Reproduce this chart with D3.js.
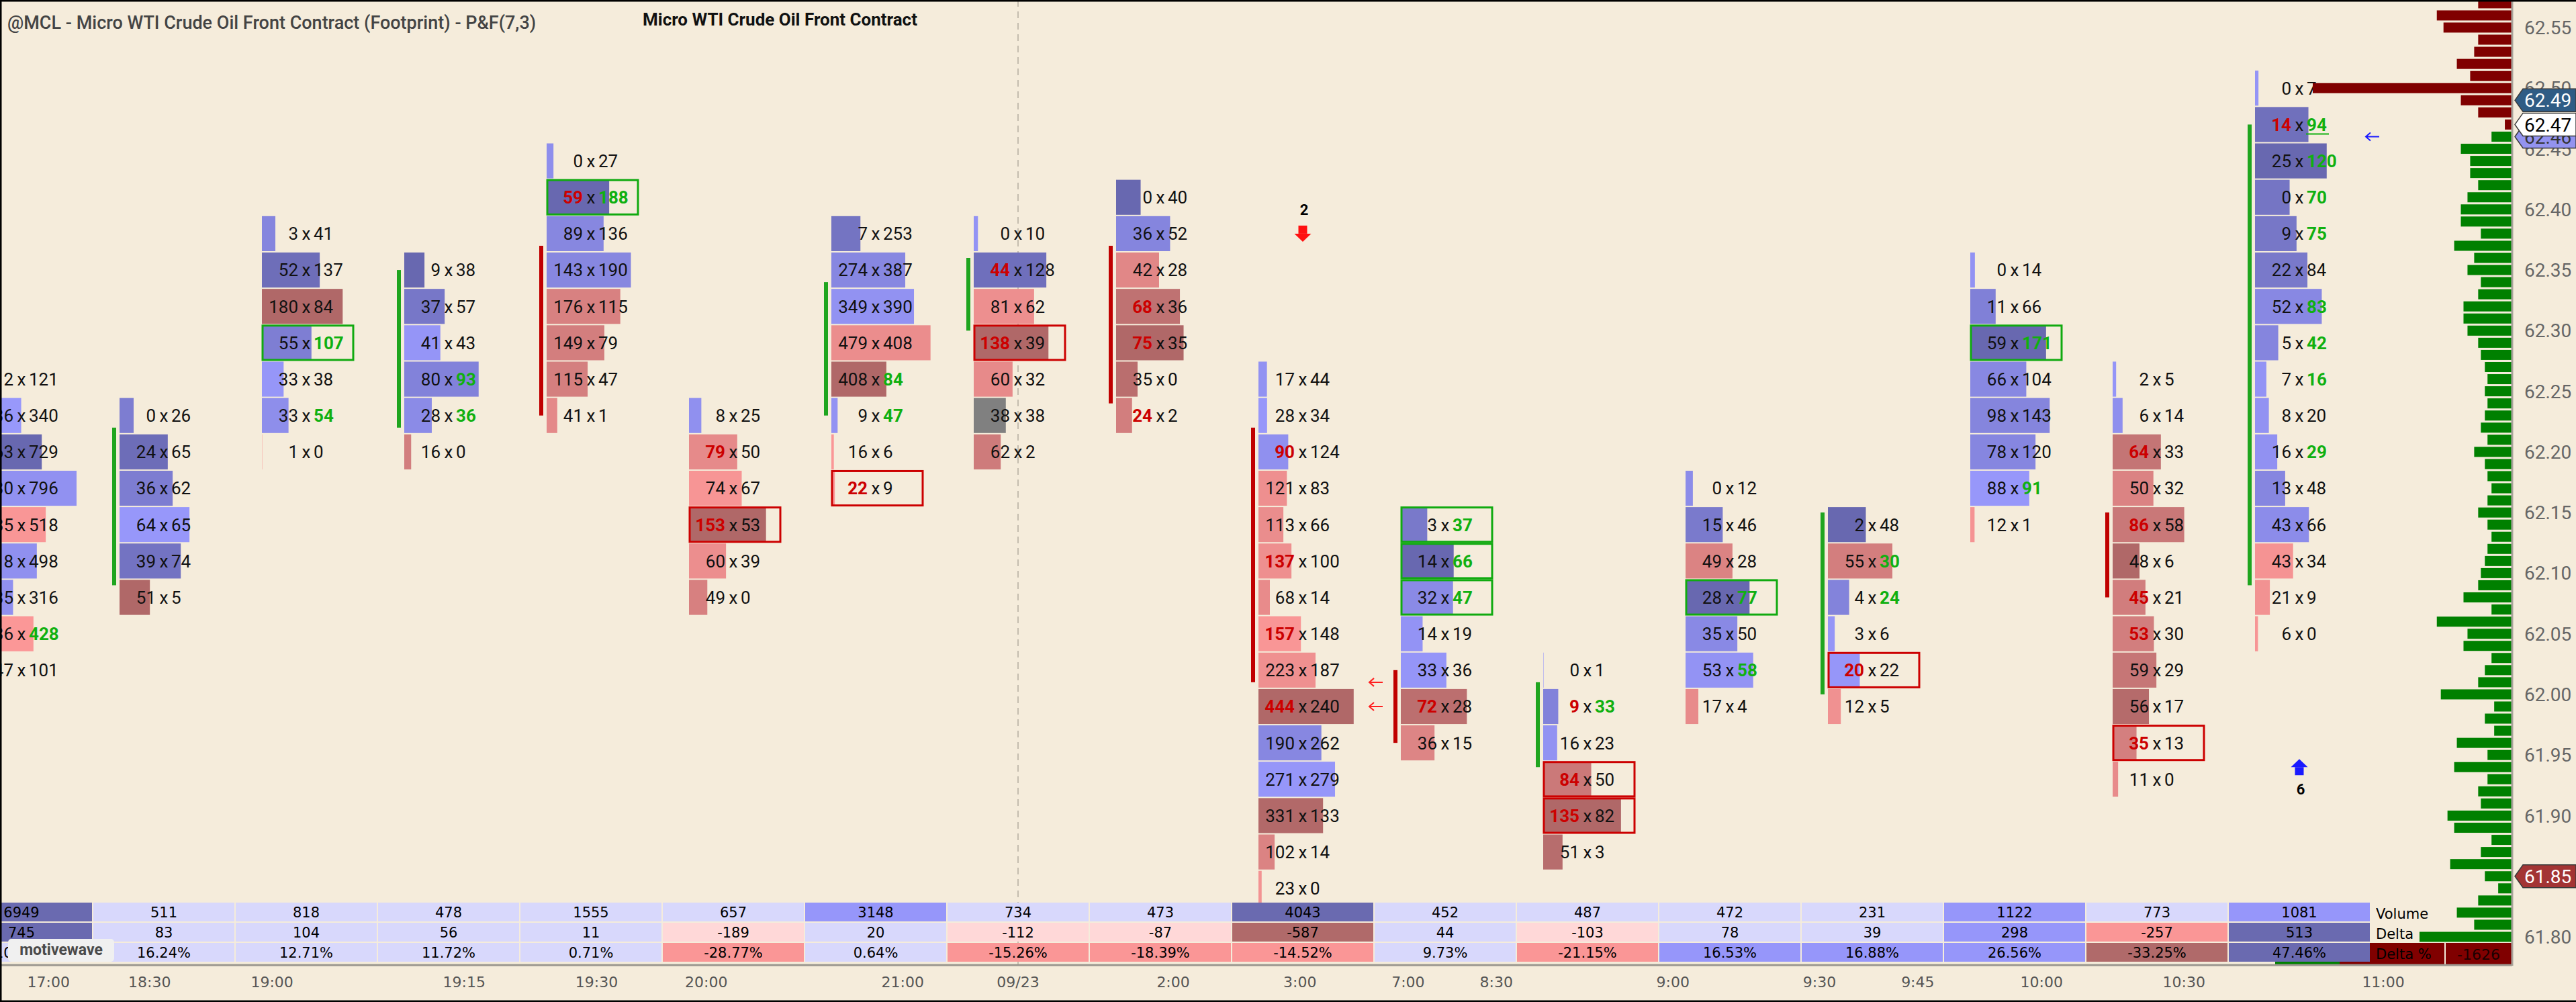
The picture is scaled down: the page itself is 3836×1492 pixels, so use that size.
<!DOCTYPE html>
<html>
<head>
<meta charset="utf-8">
<script src="https://cdn.jsdelivr.net/npm/d3@7"></script>
<style>
  body { margin: 0; background: #f5ecdb; overflow: hidden; }
  svg { display: block; }
</style>
</head>
<body>
<svg id="chart" width="3836" height="1492"></svg>
<script>
const W = 3836, H = 1492;

// top price level of each P&F footprint bar (levels step down by 3 ticks)
const topPrice = [62.26, 62.23, 62.38, 62.35, 62.44, 62.23, 62.38, 62.38, 62.41, 62.26, 62.14, 62.02, 62.17, 62.14, 62.35, 62.26, 62.50];

const bids = [
  [2, 336, 263, 730, 535, 418, 235, 436, 147],
  [0, 24, 36, 64, 39, 51],
  [3, 52, 180, 55, 33, 33, 1],
  [9, 37, 41, 80, 28, 16],
  [0, 59, 89, 143, 176, 149, 115, 41],
  [8, 79, 74, 153, 60, 49],
  [7, 274, 349, 479, 408, 9, 16, 22],
  [0, 44, 81, 138, 60, 38, 62],
  [0, 36, 42, 68, 75, 35, 24],
  [17, 28, 90, 121, 113, 137, 68, 157, 223, 444, 190, 271, 331, 102, 23],
  [3, 14, 32, 14, 33, 72, 36],
  [0, 9, 16, 84, 135, 51],
  [0, 15, 49, 28, 35, 53, 17],
  [2, 55, 4, 3, 20, 12],
  [0, 11, 59, 66, 98, 78, 88, 12],
  [2, 6, 64, 50, 86, 48, 45, 53, 59, 56, 35, 11],
  [0, 14, 25, 0, 9, 22, 52, 5, 7, 8, 16, 13, 43, 43, 21, 6]
];

const asks = [
  [121, 340, 729, 796, 518, 498, 316, 428, 101],
  [26, 65, 62, 65, 74, 5],
  [41, 137, 84, 107, 38, 54, 0],
  [38, 57, 43, 93, 36, 0],
  [27, 188, 136, 190, 115, 79, 47, 1],
  [25, 50, 67, 53, 39, 0],
  [253, 387, 390, 408, 84, 47, 6, 9],
  [10, 128, 62, 39, 32, 38, 2],
  [40, 52, 28, 36, 35, 0, 2],
  [44, 34, 124, 83, 66, 100, 14, 148, 187, 240, 262, 279, 133, 14, 0],
  [37, 66, 47, 19, 36, 28, 15],
  [1, 33, 23, 50, 82, 3],
  [12, 46, 28, 77, 50, 58, 4],
  [48, 30, 24, 6, 22, 5],
  [14, 66, 171, 104, 143, 120, 91, 1],
  [5, 14, 33, 32, 58, 6, 21, 30, 29, 17, 13, 0],
  [7, 94, 120, 70, 75, 84, 83, 42, 16, 20, 29, 48, 66, 34, 9, 0]
];

// b = bid imbalance, a = ask imbalance, R / G = boxed level, u = last trade
const marks = [
  ['', '', '', '', '', '', '', 'a', ''],
  ['', '', '', '', '', ''],
  ['', '', '', 'aG', '', 'a', ''],
  ['', '', '', 'a', 'a', ''],
  ['', 'baG', '', '', '', '', '', ''],
  ['', 'b', '', 'bR', '', ''],
  ['', '', '', '', 'a', 'a', '', 'bR'],
  ['', 'b', '', 'bR', '', '', ''],
  ['', '', '', 'b', 'b', '', 'b'],
  ['', '', 'b', '', '', 'b', '', 'b', '', 'b', '', '', '', '', ''],
  ['aG', 'aG', 'aG', '', '', 'b', ''],
  ['', 'ba', '', 'bR', 'bR', ''],
  ['', '', '', 'aG', '', 'a', ''],
  ['', 'a', 'a', '', 'bR', ''],
  ['', '', 'aG', '', '', '', 'a', ''],
  ['', '', 'b', '', 'b', '', 'b', 'b', '', '', 'bR', ''],
  ['', 'bau', 'a', 'a', 'a', '', 'a', 'a', 'a', '', 'a', '', '', '', '', '']
];

// P&F box open / close of each bar (null = not shown)
const boxOpen  = [null, 62.09, null, 62.22, 62.37, null, 62.23, 62.30, 62.37, 62.22, 62.02, 61.94, null, 62.00, null, 62.15, 62.09];
const boxClose = [null, 62.22, null, 62.35, 62.23, null, 62.34, 62.36, 62.24, 62.01, 61.96, 62.01, null, 62.15, null, 62.08, 62.47];

// time axis
const timeLabels = ['17:00', '18:30', '19:00', '19:15', '19:30', '20:00', '21:00', '09/23', '2:00', '3:00', '7:00', '8:30', '9:00', '9:30', '9:45', '10:00', '10:30', '11:00'];
const timeTickAt = [0.69, 1.40, 2.26, 3.61, 4.54, 5.31, 6.69, 7.50, 8.59, 9.48, 10.24, 10.86, 12.10, 13.13, 13.82, 14.69, 15.69, 17.09];
const dayBreakAt = 7.50;

// price axis
const priceTicks = ['62.55', '62.50', '62.45', '62.40', '62.35', '62.30', '62.25', '62.20', '62.15', '62.10', '62.05', '62.00', '61.95', '61.90', '61.85', '61.80'];

// volume profile, one value per tick from profileTop downwards
const profileTop = 62.57;
const profileVol = [50, 112, 102, 50, 56, 82, 62, 298, 76, 50, 10,
  30, 76, 62, 62, 50, 66, 76, 76, 46, 86, 56, 66, 46, 50, 72, 72, 66, 50, 46, 40,
  36, 40, 36, 40, 46, 36, 56, 40, 36, 30, 36, 50, 36, 30, 36, 40, 46, 50, 72, 30,
  112, 66, 72, 30, 40, 50, 106, 26, 40, 26, 82, 36, 86, 36, 50, 46, 96, 86, 30,
  46, 92, 40, 20, 50, 82, 56, 138, 96];
const profileSplit = 62.47;
const profileDelta = -1626;

// signals and markers
const signalCol = [9, 16];
const signalPrice = [62.38, 61.94];
const signalText = ['2', '6'];
const signalDir = ['down', 'up'];
const pointerCol = [9, 9, 16];
const pointerPrice = [62.01, 61.99, 62.46];
const pointerUp = [false, false, true];

// price badges
const badgePrice = [62.46, 62.49, 62.47, 61.85];
const badgeFill = ['#9393f0', '#2f5c85', '#ffffff', '#a33434'];
const badgeText = ['#333333', '#ffffff', '#000000', '#ffffff'];

const svg = d3.select('#chart');
svg.append('rect').attr('width', W).attr('height', H).attr('fill', '#f5ecdb');

const nCols = topPrice.length;
const y = d3.scaleLinear().domain([62.55, 61.80]).range([41, 1395]);
const x = d3.scaleBand().domain(d3.range(nCols)).range([-74, 3530]);
const xTime = d3.scaleLinear().domain([0, nCols]).range([-74, 3530]);
const rowStep = 0.03;
const cellW = 137, barOffset = 40;
const cellFont = 'Roboto, sans-serif';
const tableFont = '"DejaVu Sans", sans-serif';
const maxWidth = d3.scaleLog().domain([90, 900]).range([96, 148]).clamp(true);
const blueShade = d3.interpolateRgb('#9898fc', '#6868b0');
const redShade = d3.interpolateRgb('#fc9898', '#b06868');

// day break
svg.append('line')
  .attr('x1', xTime(dayBreakAt)).attr('x2', xTime(dayBreakAt))
  .attr('y1', 0).attr('y2', 1437)
  .attr('stroke', '#c4bcae').attr('stroke-width', 2)
  .attr('stroke-dasharray', '10,7');

const chart = svg.append('g');

topPrice.forEach((tp, i) => {
  const cells = bids[i].map((b, k) => ({
    price: tp - k * rowStep, bid: b, ask: asks[i][k], mark: marks[i][k]
  }));
  const maxTot = d3.max(cells, c => c.bid + c.ask);
  const maxDelta = d3.max(cells, c => Math.abs(c.ask - c.bid)) || 1;
  const w = d3.scaleLinear().domain([0, maxTot]).range([0, maxWidth(maxTot)]);
  const x0 = x(i) + barOffset;
  const xc = x(i) + x.bandwidth() / 2;

  const g = chart.append('g');

  const rowTop = c => y(c.price + rowStep / 2) + 1;
  const rowH = y(tp - rowStep / 2) - y(tp + rowStep / 2) - 2;

  g.selectAll('rect.bar')
    .data(cells)
    .enter()
    .append('rect')
    .attr('class', 'bar')
    .attr('x', x0)
    .attr('y', rowTop)
    .attr('width', c => w(c.bid + c.ask))
    .attr('height', rowH)
    .attr('fill', c => {
      if (c.ask === c.bid) return '#808080';
      const t = Math.abs(c.ask - c.bid) / maxDelta;
      return c.ask > c.bid ? blueShade(t) : redShade(t);
    });

  g.selectAll('rect.box')
    .data(cells.filter(c => /[RG]/.test(c.mark)))
    .enter()
    .append('rect')
    .attr('x', x0 + 1)
    .attr('y', c => rowTop(c) + 0.5)
    .attr('width', cellW - 2)
    .attr('height', rowH - 1)
    .attr('fill', 'none')
    .attr('stroke', c => c.mark.includes('G') ? '#10aa10' : '#cc0000')
    .attr('stroke-width', 3);

  // P&F box line
  if (boxOpen[i] !== null) {
    const up = boxClose[i] > boxOpen[i];
    g.append('rect')
      .attr('x', x0 - 11)
      .attr('y', y(Math.max(boxOpen[i], boxClose[i])))
      .attr('width', 6)
      .attr('height', Math.abs(y(boxOpen[i]) - y(boxClose[i])))
      .attr('fill', up ? '#1fa51f' : '#c00000');
  }

  const txt = g.selectAll('g.txt')
    .data(cells)
    .enter()
    .append('g')
    .attr('font-family', cellFont)
    .attr('font-size', 26);

  txt.append('text')
    .attr('x', xc - 12)
    .attr('y', c => y(c.price))
    .attr('dy', '0.36em')
    .attr('text-anchor', 'end')
    .attr('font-weight', c => c.mark.includes('b') ? 700 : 400)
    .attr('fill', c => c.mark.includes('b') ? '#cc0000' : '#111')
    .text(c => c.bid);

  txt.append('text')
    .attr('x', xc)
    .attr('y', c => y(c.price))
    .attr('dy', '0.36em')
    .attr('text-anchor', 'middle')
    .attr('fill', '#111')
    .text('x');

  txt.append('text')
    .attr('x', xc + 11)
    .attr('y', c => y(c.price))
    .attr('dy', '0.36em')
    .attr('text-anchor', 'start')
    .attr('font-weight', c => c.mark.includes('a') ? 700 : 400)
    .attr('fill', c => c.mark.includes('a') ? '#10b010' : '#111')
    .text(c => c.ask);

  // last trade underline
  txt.filter(c => c.mark.includes('u'))
    .append('line')
    .attr('x1', xc + 10).attr('x2', xc + 44)
    .attr('y1', c => y(c.price) + 14).attr('y2', c => y(c.price) + 14)
    .attr('stroke', '#10b010').attr('stroke-width', 2);
});

// signal arrows
signalCol.forEach((col, i) => {
  const cx = x(col) + x.bandwidth() / 2;
  const cy = y(signalPrice[i]);
  const down = signalDir[i] === 'down';
  const color = down ? '#ff1010' : '#1a1aff';
  const arrow = svg.append('g').attr('fill', color);
  if (down) {
    arrow.append('rect').attr('x', cx - 6.5).attr('y', cy - 12).attr('width', 13).attr('height', 12);
    arrow.append('path').attr('d', `M${cx - 12.5},${cy} L${cx + 12.5},${cy} L${cx},${cy + 12} Z`);
  } else {
    arrow.append('rect').attr('x', cx - 6.5).attr('y', cy).attr('width', 13).attr('height', 12);
    arrow.append('path').attr('d', `M${cx - 12.5},${cy} L${cx + 12.5},${cy} L${cx},${cy - 12} Z`);
  }
  svg.append('text')
    .attr('x', cx + 2)
    .attr('y', down ? cy - 36 : cy + 33)
    .attr('dy', '0.36em')
    .attr('text-anchor', 'middle')
    .attr('font-family', cellFont)
    .attr('font-weight', 700)
    .attr('font-size', 22)
    .attr('fill', '#000')
    .text(signalText[i]);
});

// small pointer arrows
pointerCol.forEach((col, i) => {
  const xa = x(col) + x.bandwidth() + 3;
  const ya = y(pointerPrice[i]);
  svg.append('path')
    .attr('d', `M${xa + 10},${ya} L${xa - 10},${ya} M${xa - 3},${ya - 6} L${xa - 10},${ya} L${xa - 3},${ya + 6}`)
    .attr('fill', 'none')
    .attr('stroke', pointerUp[i] ? '#1a1aff' : '#ff2020')
    .attr('stroke-width', 2);
});

// volume profile
const axisX = 3741;
const xProfile = d3.scaleLinear().domain([0, 300]).range([0, 298]);
svg.append('g')
  .selectAll('rect')
  .data(profileVol)
  .enter()
  .append('rect')
  .attr('x', v => axisX - 1 - xProfile(v))
  .attr('y', (v, k) => y(profileTop - k * 0.01) - 7.5)
  .attr('width', v => xProfile(v))
  .attr('height', 15)
  .attr('fill', (v, k) => profileTop - k * 0.01 >= profileSplit - 0.001 ? '#800000' : '#008000');

// profile summary strip
svg.append('rect').attr('x', 3388).attr('y', 1431).attr('width', 96).attr('height', 6).attr('fill', '#008000');
svg.append('rect').attr('x', 3484).attr('y', 1404).attr('width', 156).attr('height', 33).attr('fill', '#800000');
svg.append('rect').attr('x', 3642).attr('y', 1404).attr('width', 98).attr('height', 33).attr('fill', '#800000');
svg.append('text')
  .attr('x', 3691).attr('y', 1421).attr('dy', '0.36em')
  .attr('text-anchor', 'middle')
  .attr('font-family', tableFont).attr('font-size', 22)
  .attr('fill', '#1a0000')
  .text(profileDelta);

// bottom table
const volume = bids.map((b, i) => d3.sum(b) + d3.sum(asks[i]));
const delta = bids.map((b, i) => d3.sum(asks[i]) - d3.sum(b));
const deltaPct = delta.map((d, i) => d / volume[i] * 100);

const light = '#d8d8fc', lightRed = '#ffd8d8', midBlue = '#9696fa', midRed = '#fa9696',
  darkBlue = '#6a6ab0', darkRed = '#b06a6a';
// volume shade: relative to the average of the previous four bars
const volColor = (v, i) => {
  if (v > 3500) return darkBlue;
  const prev = volume.slice(Math.max(0, i - 4), i);
  return prev.length && v > 1.5 * d3.mean(prev) ? midBlue : light;
};
const deltaColor = d => {
  const m = Math.abs(d);
  if (d >= 0) return m > 500 ? darkBlue : m > 250 ? midBlue : light;
  return m > 500 ? darkRed : m > 250 ? midRed : lightRed;
};
const pctColor = p => {
  if (p >= 0) return p > 30 ? darkBlue : p > 16.3 ? midBlue : light;
  return p < -30 ? darkRed : p < -14 ? midRed : lightRed;
};

const tableRows = [
  { y: 1344, values: volume, color: volColor, fmt: v => v },
  { y: 1374, values: delta, color: deltaColor, fmt: v => v },
  { y: 1404, values: deltaPct, color: pctColor, fmt: v => v.toFixed(2) + '%' }
];

const table = svg.append('g');
tableRows.forEach(row => {
  const r = table.append('g');
  r.selectAll('rect')
    .data(row.values)
    .enter()
    .append('rect')
    .attr('x', (v, i) => x(i) + 1)
    .attr('y', row.y)
    .attr('width', x.bandwidth() - 2)
    .attr('height', 28)
    .attr('fill', (v, i) => row.color(v, i));
  r.selectAll('text')
    .data(row.values)
    .enter()
    .append('text')
    .attr('x', (v, i) => x(i) + x.bandwidth() / 2)
    .attr('y', row.y + 14)
    .attr('dy', '0.36em')
    .attr('text-anchor', 'middle')
    .attr('font-family', tableFont)
    .attr('font-size', 21)
    .attr('fill', '#000')
    .text(row.fmt);
});

['Volume', 'Delta', 'Delta %'].forEach((label, k) => {
  svg.append('text')
    .attr('x', 3538)
    .attr('y', tableRows[k].y + 16)
    .attr('dy', '0.36em')
    .attr('font-family', tableFont)
    .attr('font-size', 21)
    .attr('fill', '#000')
    .text(label);
});

// axes frame
svg.append('line')
  .attr('x1', 0).attr('x2', axisX).attr('y1', 1437).attr('y2', 1437)
  .attr('stroke', '#9b978f').attr('stroke-width', 3);
svg.append('line')
  .attr('x1', axisX).attr('x2', axisX).attr('y1', 0).attr('y2', 1438)
  .attr('stroke', '#a7a29a').attr('stroke-width', 3);

// time labels
svg.append('g')
  .selectAll('text')
  .data(timeLabels)
  .enter()
  .append('text')
  .attr('x', (t, i) => xTime(timeTickAt[i]))
  .attr('y', 1462)
  .attr('dy', '0.36em')
  .attr('text-anchor', 'middle')
  .attr('font-family', tableFont)
  .attr('font-size', 22)
  .attr('fill', '#555')
  .text(t => t);

// price labels
svg.append('g')
  .selectAll('text')
  .data(priceTicks)
  .enter()
  .append('text')
  .attr('x', 3759)
  .attr('y', p => y(+p))
  .attr('dy', '0.36em')
  .attr('font-family', cellFont)
  .attr('font-size', 28)
  .attr('fill', '#666')
  .text(p => p);

// price badges
badgePrice.forEach((p, i) => {
  const yc = y(p);
  svg.append('path')
    .attr('d', `M3745,${yc} L3757,${yc - 17} L3836,${yc - 17} L3836,${yc + 17} L3757,${yc + 17} Z`)
    .attr('fill', badgeFill[i])
    .attr('stroke', '#3a3a3a')
    .attr('stroke-width', 1.5);
  svg.append('text')
    .attr('x', 3759)
    .attr('y', yc)
    .attr('dy', '0.36em')
    .attr('font-family', cellFont)
    .attr('font-size', 28)
    .attr('fill', badgeText[i])
    .text(p.toFixed(2));
});

// titles
svg.append('text')
  .attr('x', 11).attr('y', 33).attr('dy', '0.36em')
  .attr('font-family', cellFont).attr('font-weight', 500).attr('font-size', 27)
  .attr('fill', '#444')
  .text('@MCL - Micro WTI Crude Oil Front Contract (Footprint) - P&F(7,3)');

svg.append('text')
  .attr('x', 957).attr('y', 29).attr('dy', '0.36em')
  .attr('font-family', cellFont).attr('font-weight', 700).attr('font-size', 26)
  .attr('fill', '#111')
  .text('Micro WTI Crude Oil Front Contract');

// logo
svg.append('rect')
  .attr('x', 12).attr('y', 1398).attr('width', 158).attr('height', 34).attr('rx', 5)
  .attr('fill', '#f0f0f0');
svg.append('text')
  .attr('x', 91).attr('y', 1414).attr('dy', '0.36em')
  .attr('text-anchor', 'middle')
  .attr('font-family', cellFont).attr('font-weight', 700).attr('font-size', 23)
  .attr('fill', '#4a4a4a')
  .text('motivewave');

// outer border
svg.append('path')
  .attr('d', `M1,${H} L1,1 L${W},1 M0,${H - 1} L${W},${H - 1}`)
  .attr('fill', 'none').attr('stroke', '#000').attr('stroke-width', 3);
</script>
</body>
</html>
